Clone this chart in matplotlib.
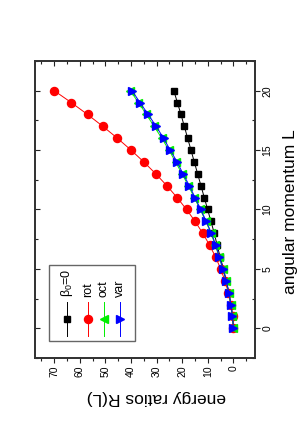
import matplotlib
matplotlib.use("Agg")
import matplotlib.pyplot as plt
from matplotlib.ticker import MultipleLocator

plt.rcParams['font.family'] = ['Liberation Sans', 'DejaVu Sans']
plt.rcParams['mathtext.fontset'] = 'custom'
plt.rcParams['mathtext.rm'] = 'Liberation Sans'
plt.rcParams['mathtext.it'] = 'Liberation Sans:italic'

# ---- data ----
L = [0, 1, 2, 3, 4, 5, 6, 7, 8, 9, 10, 11, 12, 13, 14, 15, 16, 17, 18, 19, 20]
R_beta0 = [0, 0.35, 1, 1.8, 2.8, 3.9, 5.2, 6.4, 7.5, 8.8, 10.1, 11.4, 12.7,
           14.0, 15.3, 16.6, 17.9, 19.2, 20.5, 21.9, 23.3]
R_rot = [0, 0.33, 1, 2, 3.33, 5, 7, 9.33, 12, 15, 18.33, 22, 26, 30.33, 35,
         40, 45.33, 51, 57, 63.33, 70]
R_oct = [0, 0.4, 1, 1.9, 2.9, 4.2, 5.6, 7.1, 8.8, 10.8, 13.0, 15.3, 17.6,
         20.1, 22.6, 25.2, 28.0, 31.0, 34.0, 37.1, 40.3]
R_var = [0, 0.4, 1, 1.8, 2.8, 4.1, 5.5, 6.9, 8.6, 10.6, 12.8, 15.0, 17.2,
         19.7, 22.0, 24.7, 27.3, 30.2, 33.3, 36.5, 39.6]
labels = [r'$\mathregular{\beta_0}$=0', 'rot', 'oct', 'var']
colors = ['#000000', '#ff0000', '#00ee00', '#0000ff']
markers = ['s', 'o', '<', '>']
msizes = [4.8, 5.8, 6.0, 6.0]
x_ticks = [0, 10, 20, 30, 40, 50, 60, 70]
y_ticks = [0, 5, 10, 15, 20]

series = [R_beta0, R_rot, R_oct, R_var]

fig = plt.figure(figsize=(3.03, 4.36), dpi=100)
ax = fig.add_axes([35/303, 1-358/436, 220/303, 297/436])

for vals, c, m, ms in zip(series, colors, markers, msizes):
    ax.plot(vals, L, color=c, lw=0.7, marker=m, ms=ms, mec=c, mfc=c, zorder=3)

xlim = (77.5, -8.4)
ylim = (-2.5, 22.5)
ax.set_xlim(*xlim)
ax.set_ylim(*ylim)
ax.set_xticks(x_ticks)
ax.set_xticklabels([str(v) for v in x_ticks])
ax.xaxis.set_minor_locator(MultipleLocator(5))
ax.yaxis.set_major_locator(MultipleLocator(5))
ax.yaxis.set_minor_locator(MultipleLocator(2.5))
ax.tick_params(axis='x', which='both', direction='out', bottom=True, top=False,
               labelbottom=True, labelrotation=90, labelsize=7.5, pad=2,
               color='#222222')
ax.tick_params(axis='x', which='major', length=3.5, width=0.8)
ax.tick_params(axis='x', which='minor', length=2.5, width=0.8)
ax.tick_params(axis='y', which='both', direction='in', left=True, right=False,
               labelleft=False, color='#222222')
ax.tick_params(axis='y', which='major', length=3.5, width=0.8)
ax.tick_params(axis='y', which='minor', length=2.5, width=0.8)

# top ticks (inward)
axt = ax.twiny()
axt.set_xlim(*xlim)
axt.set_xticks(x_ticks)
axt.xaxis.set_minor_locator(MultipleLocator(5))
axt.tick_params(axis='x', which='both', direction='in', top=True, bottom=False,
                labeltop=False, color='#222222')
axt.tick_params(axis='x', which='major', length=3.5, width=0.8)
axt.tick_params(axis='x', which='minor', length=2.5, width=0.8)

# right ticks (major outward with labels, minor inward)
axr = ax.twinx()
axr.set_ylim(*ylim)
axr.set_yticks(y_ticks)
axr.set_yticklabels([str(v) for v in y_ticks])
axr.yaxis.set_minor_locator(MultipleLocator(2.5))
axr.tick_params(axis='y', which='major', direction='out', right=True, left=False,
                labelright=True, labelrotation=90, labelsize=7.5, length=3.5,
                width=0.8, pad=2, color='#222222')
axr.tick_params(axis='y', which='minor', direction='in', right=True, left=False,
                length=2.5, width=0.8, color='#222222')
for t in axr.get_yticklabels():
    t.set_va('center')

for a in (ax, axt, axr):
    for s in a.spines.values():
        s.set_linewidth(1.1)
        s.set_color('#333333')

# axis labels
fig.text(156/303, 1-397/436, 'energy ratios R(L)', rotation=180, ha='center',
         va='center', fontsize=12.5)
fig.text(290/303, 1-212/436, 'angular momentum L', rotation=90, ha='center',
         va='center', fontsize=12.5)

# legend (rotated, drawn in axes coordinates)
from matplotlib.patches import Rectangle
ax.add_patch(Rectangle((0.0636, 0.058), 0.391, 0.255, transform=ax.transAxes,
                       fill=True, fc='white', ec='#666666', lw=1.0, zorder=5))
xs = [0.147, 0.2395, 0.3136, 0.3864]
for xp, lab, c, m, ms in zip(xs, labels, colors, markers, msizes):
    ax.plot([xp, xp], [0.074, 0.1896], color=c, lw=0.7, transform=ax.transAxes,
            zorder=6)
    ax.plot([xp], [0.130], color=c, marker=m, ms=ms, mec=c, mfc=c,
            transform=ax.transAxes, zorder=6)
    ax.text(xp, 0.205, lab, rotation=90, ha='center', va='bottom',
            fontsize=9, transform=ax.transAxes, zorder=6)

fig.savefig('out.png', dpi=100)
